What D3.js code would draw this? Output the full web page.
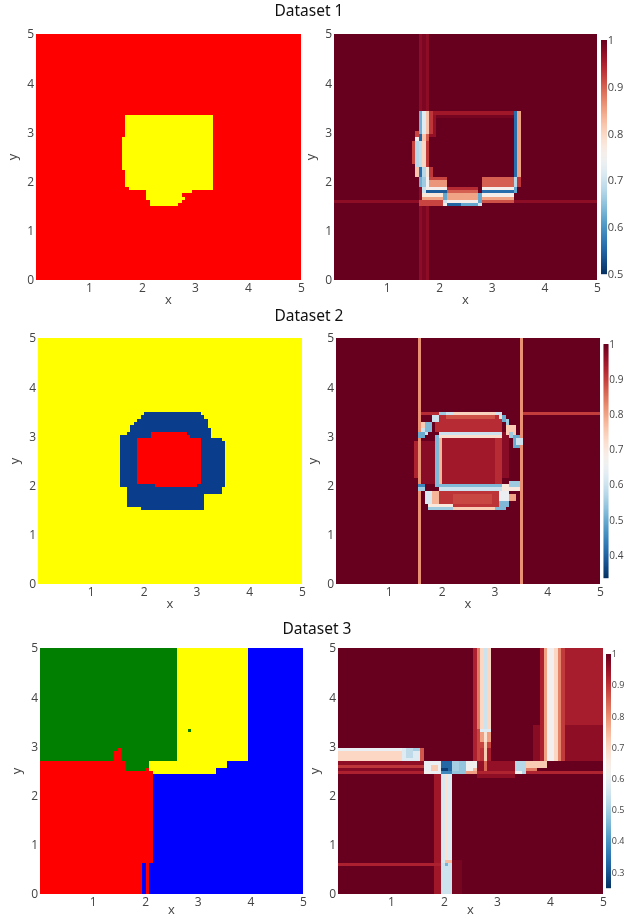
<!DOCTYPE html>
<html>
<head>
<meta charset="utf-8">
<title>Dataset maps</title>
<script src="https://cdn.jsdelivr.net/npm/d3@7"></script>
<style>
html, body { margin: 0; padding: 0; background: #fff; overflow: hidden; }
svg { display: block; filter: blur(0.45px); }
.tick text, .cbar text { font-family: "Open Sans", sans-serif; font-size: 12px; fill: #444; }
.axis-title { font-family: "Open Sans", sans-serif; font-size: 13px; fill: #444; text-anchor: middle; }
.title { font-family: "Noto Sans", sans-serif; font-size: 15.5px; fill: #111; text-anchor: middle; }
</style>
</head>
<body>
<div id="chart"></div>
<script>
var titles = ['Dataset 1', 'Dataset 2', 'Dataset 3'];
var xTicks = [1, 2, 3, 4, 5];
var yTicks = [0, 1, 2, 3, 4, 5];
var classColors = {r: '#ff0000', y: '#ffff00', n: '#0a3d8c', g: '#007f00', b: '#0000ff'};

// grid is 75 cells a side (0.0667 per cell)
// every patch: [col from, col to, row from, row to, value], rows count from the bottom
var class1Base = 'r';
var class1 = [
    [25, 50, 28, 50, 'y'], [24, 25, 33, 43, 'y'], [26, 50, 27, 28, 'y'],
    [31, 44, 26, 27, 'y'], [31, 41, 25, 26, 'y'], [31, 42, 24, 25, 'y'],
    [32, 41, 23, 24, 'y'], [32, 40, 22, 23, 'y']
];

var class2Base = 'y';
var class2 = [
    [30, 46, 51, 52, 'n'], [29, 47, 50, 51, 'n'], [28, 48, 49, 50, 'n'], [27, 48, 48, 49, 'n'],
    [26, 48, 47, 48, 'n'], [26, 49, 46, 47, 'n'], [25, 49, 45, 46, 'n'], [23, 49, 44, 45, 'n'],
    [23, 52, 43, 44, 'n'], [23, 53, 29, 43, 'n'], [25, 52, 27, 29, 'n'], [25, 47, 23, 27, 'n'],
    [29, 47, 22, 23, 'n'],
    [32, 42, 44, 46, 'r'], [42, 43, 44, 45, 'r'], [28, 46, 30, 44, 'r'], [33, 45, 29, 30, 'r']
];

var class3Base = 'b';
var class3 = [
    [0, 39, 40, 76, 'g'], [24, 31, 37, 40, 'g'],
    [21, 22, 40, 43, 'r'], [22, 23, 40, 44, 'r'], [0, 24, 37, 40, 'r'],
    [0, 32, 9, 37, 'r'], [30, 31, 37, 38, 'r'], [0, 29, 0, 9, 'r'], [30, 31, 0, 9, 'r'],
    [39, 59, 40, 76, 'y'], [31, 53, 38, 40, 'y'], [32, 50, 36, 38, 'y'], [31, 32, 37, 38, 'y'],
    [42, 43, 49, 50, 'g']
];

var heat1 = [
    [24, 25, 0, 76, 0.975], [25, 26, 0, 76, 0.985], [26, 27, 0, 76, 0.975], [0, 76, 23, 24, 0.975],
    [27, 51, 50, 51, 0.96], [27, 51, 49, 50, 0.99],
    [27, 29, 43, 50, 0.97], [22, 23, 35, 42, 0.92], [26, 27, 34, 44, 0.93],
    [23, 24, 43, 45, 0.92], [23, 24, 42, 43, 0.76], [24, 25, 44, 51, 0.63], [25, 26, 44, 51, 0.72],
    [26, 27, 44, 51, 0.82], [27, 28, 44, 51, 0.93],
    [24, 25, 42, 44, 0.55], [25, 26, 42, 44, 0.82], [26, 27, 42, 44, 0.9],
    [23, 24, 34, 42, 0.68], [24, 25, 34, 42, 0.69], [25, 26, 34, 42, 0.8],
    [23, 24, 31, 34, 0.82], [24, 25, 31, 34, 0.56], [25, 26, 31, 34, 0.68], [26, 27, 31, 34, 0.78], [27, 28, 31, 34, 0.93],
    [24, 25, 28, 31, 0.63], [25, 26, 28, 31, 0.66], [26, 27, 28, 31, 0.75], [27, 32, 28, 30, 0.86], [27, 32, 30, 31, 0.92],
    [25, 26, 26, 28, 0.7], [26, 32, 27, 28, 0.76], [26, 32, 26, 27, 0.54],
    [25, 32, 25, 26, 0.78], [25, 32, 24, 25, 0.85], [24, 32, 22, 24, 0.92],
    [32, 41, 27, 28, 0.94], [32, 41, 26, 27, 0.9], [32, 41, 24, 26, 0.85], [32, 41, 23, 24, 0.76],
    [32, 36, 22, 23, 0.55], [36, 41, 22, 23, 0.62], [31, 32, 24, 26, 0.62], [31, 32, 23, 24, 0.7], [31, 32, 22, 23, 0.76],
    [41, 42, 23, 26, 0.62], [41, 42, 22, 23, 0.7],
    [42, 51, 28, 31, 0.9], [42, 51, 27, 28, 0.76], [42, 51, 26, 27, 0.56], [42, 51, 25, 26, 0.76],
    [42, 51, 24, 25, 0.85], [42, 51, 23, 24, 0.91],
    [51, 52, 31, 51, 0.56], [51, 52, 28, 31, 0.68], [51, 52, 26, 28, 0.62], [52, 53, 31, 51, 0.85], [52, 53, 28, 31, 0.93]
];

var heat2 = [
    [23, 24, 0, 76, 0.82], [52, 53, 0, 76, 0.82], [53, 76, 51, 52, 0.9], [24, 30, 51, 52, 0.92],
    [22, 23, 32, 43, 0.93], [24, 28, 30, 43, 0.97], [47, 49, 32, 46, 0.97],
    [28, 47, 46, 51, 0.92], [29, 46, 23, 28, 0.91], [33, 44, 24, 27, 0.89],
    [30, 46, 30, 44, 0.945], [29, 30, 30, 44, 0.78], [45, 47, 30, 44, 0.92],
    [31, 45, 51, 52, 0.74], [31, 45, 50, 51, 0.88], [29, 31, 51, 52, 0.55], [31, 33, 51, 52, 0.6], [45, 47, 51, 52, 0.6],
    [47, 48, 49, 51, 0.5], [48, 49, 47, 50, 0.55], [46, 47, 50, 51, 0.72],
    [24, 27, 47, 49, 0.75], [24, 26, 45, 47, 0.6], [23, 25, 44, 46, 0.5], [25, 27, 46, 49, 0.52], [27, 29, 49, 51, 0.6],
    [48, 51, 45, 48, 0.75], [49, 50, 44, 46, 0.55], [50, 52, 41, 45, 0.5], [51, 53, 42, 44, 0.6],
    [29, 47, 45, 46, 0.6], [29, 47, 44, 45, 0.72], [28, 29, 29, 45, 0.52],
    [29, 47, 29, 30, 0.52], [29, 47, 28, 29, 0.6], [23, 25, 29, 30, 0.45], [23, 25, 28, 29, 0.55],
    [25, 27, 24, 28, 0.62], [27, 29, 24, 28, 0.78], [26, 33, 23, 24, 0.7],
    [26, 33, 22, 23, 0.55], [33, 45, 22, 23, 0.75], [45, 48, 22, 23, 0.52],
    [47, 52, 28, 30, 0.7], [49, 52, 29, 31, 0.55], [46, 49, 25, 28, 0.65], [46, 49, 23, 25, 0.52], [49, 51, 25, 27, 0.8]
];

var heat3 = [
    [64, 76, 51, 76, 0.93], [64, 76, 40, 51, 0.96], [55, 58, 40, 51, 0.965],
    [57, 58, 40, 76, 0.925], [58, 59, 40, 76, 0.775], [59, 61, 40, 76, 0.625], [61, 62, 40, 76, 0.7], [62, 63, 40, 76, 0.81], [63, 64, 40, 76, 0.89],
    [38, 39, 40, 76, 0.925], [39, 40, 50, 76, 0.82], [40, 41, 50, 76, 0.7], [41, 42, 50, 76, 0.55], [42, 43, 50, 76, 0.7],
    [40, 43, 49, 50, 0.58], [40, 43, 46, 49, 0.78], [41, 42, 46, 49, 0.68], [39, 40, 40, 50, 0.88],
    [39, 43, 44, 46, 0.88], [40, 41, 40, 44, 0.9], [41, 42, 40, 46, 0.72], [42, 43, 40, 44, 0.93],
    [0, 18, 43, 44, 0.6], [0, 18, 40, 43, 0.7], [18, 23, 40, 44, 0.58], [19, 21, 41, 44, 0.53], [21, 23, 43, 44, 0.5], [23, 24, 40, 44, 0.86],
    [0, 24, 39, 40, 0.96], [0, 24, 38, 39, 0.895], [0, 24, 37, 38, 0.97], [0, 24, 36, 37, 0.925],
    [39, 50, 35, 40, 0.955], [39, 50, 35, 36, 0.96], [41, 42, 36, 40, 0.84],
    [32, 76, 36, 37, 0.92],
    [24, 29, 36, 40, 0.6], [26, 28, 37, 39, 0.72], [24, 26, 36, 37, 0.62],
    [29, 32, 36, 40, 0.33], [29, 31, 37, 38, 0.27], [29, 32, 36, 37, 0.38],
    [32, 36, 36, 40, 0.48], [32, 34, 37, 40, 0.5], [36, 39, 36, 40, 0.62], [36, 39, 36, 37, 0.78], [38, 39, 37, 38, 0.74],
    [50, 53, 36, 40, 0.52], [50, 52, 36, 37, 0.62], [53, 59, 38, 40, 0.72], [53, 56, 37, 38, 0.82],
    [27, 29, 0, 36, 0.94], [29, 30, 9, 36, 0.57], [30, 31, 9, 36, 0.68], [31, 32, 9, 36, 0.58],
    [29, 32, 0, 9, 0.55], [30, 31, 8, 9, 0.45], [30, 32, 9, 10, 0.74], [32, 35, 0, 10, 0.985], [0, 29, 8, 9, 0.925]
];

// plot boxes
var layout = [
    {title: 0, ty: 10, xlab: 24, box: {l: 36, r: 301, t: 34, b: 280}, base: class1Base, patches: class1},
    {xlab: 24, box: {l: 334, r: 597, t: 34, b: 280}, patches: heat1, domain: [0.5, 1], cbar: {l: 601, r: 607, t: 40, b: 274, fs: 11}, ticks: [0.5, 0.6, 0.7, 0.8, 0.9, 1]},
    {title: 1, ty: 315, xlab: 24, box: {l: 38, r: 302, t: 338, b: 584}, base: class2Base, patches: class2},
    {xlab: 24, box: {l: 336, r: 600, t: 338, b: 584}, patches: heat2, domain: [0.335, 1], cbar: {l: 603.5, r: 608.5, t: 344, b: 578, fs: 10}, ticks: [0.4, 0.5, 0.6, 0.7, 0.8, 0.9, 1]},
    {title: 2, ty: 628, xlab: 20, box: {l: 40, r: 303, t: 648, b: 894}, base: class3Base, patches: class3},
    {xlab: 20, box: {l: 338, r: 603, t: 648, b: 894}, patches: heat3, domain: [0.25, 1], cbar: {l: 606, r: 611, t: 654, b: 888, fs: 9}, ticks: [0.3, 0.4, 0.5, 0.6, 0.7, 0.8, 0.9, 1]}
];

var titleX = [309, 309, 317];
var svg = d3.select('#chart').append('svg').attr('width', 624).attr('height', 919);
var defs = svg.append('defs');

layout.forEach(function (p, n) {
    var b = p.box;
    var x = d3.scaleLinear().domain([0, 5]).range([b.l, b.r]);
    var y = d3.scaleLinear().domain([0, 5]).range([b.b, b.t]);
    var isHeat = !!p.domain;
    var color = isHeat ? d3.scaleSequential(d3.interpolateRdBu).domain([p.domain[1], p.domain[0]]) : function (c) { return classColors[c]; };

    // paint patches onto the grid, later ones on top
    var grid = d3.range(76).map(function () {
        return d3.range(76).map(function () { return isHeat ? 1 : p.base; });
    });
    p.patches.forEach(function (q) {
        for (var j = q[2]; j < q[3]; j++) {
            for (var i = q[0]; i < q[1]; i++) grid[j][i] = q[4];
        }
    });

    // merge equal neighbours in a row so seams stay away
    var runs = [];
    grid.forEach(function (row, j) {
        var start = 0;
        for (var i = 1; i <= 76; i++) {
            if (i === 76 || row[i] !== row[start]) {
                runs.push({i0: start, i1: i, j: j, v: row[start]});
                start = i;
            }
        }
    });

    defs.append('clipPath').attr('id', 'clip' + n).append('rect')
        .attr('x', b.l).attr('y', b.t).attr('width', b.r - b.l).attr('height', b.b - b.t);

    var dx = 5 / 75;
    var ox = 0.2, oy = 0.45;  // the cells sit a bit off the axis origin
    var g = svg.append('g').attr('clip-path', 'url(#clip' + n + ')');
    g.append('rect').attr('x', b.l).attr('y', b.t).attr('width', b.r - b.l).attr('height', b.b - b.t)
        .attr('fill', color(isHeat ? 1 : p.base));
    g.selectAll('rect.cell')
        .data(runs)
        .enter()
        .append('rect')
        .attr('class', 'cell')
        .attr('shape-rendering', 'crispEdges')
        .attr('x', function (d) { return x(d.i0 === 0 ? 0 : (d.i0 + ox) * dx); })
        .attr('width', function (d) { return x((d.i1 + ox) * dx) - x(d.i0 === 0 ? 0 : (d.i0 + ox) * dx); })
        .attr('y', function (d) { return y((d.j + 1 + oy) * dx); })
        .attr('height', function (d) { return y(d.j === 0 ? 0 : (d.j + oy) * dx) - y((d.j + 1 + oy) * dx); })
        .attr('fill', function (d) { return color(d.v); });

    // axes
    var ax = svg.append('g').attr('transform', 'translate(0,' + b.b + ')')
        .call(d3.axisBottom(x).tickValues(xTicks).tickSize(0).tickPadding(3).tickFormat(d3.format('d')));
    ax.select('.domain').remove();
    var ay = svg.append('g').attr('transform', 'translate(' + b.l + ',0)')
        .call(d3.axisLeft(y).tickValues(yTicks).tickSize(0).tickPadding(2).tickFormat(d3.format('d')));
    ay.select('.domain').remove();

    svg.append('text').attr('class', 'axis-title')
        .attr('x', (b.l + b.r) / 2).attr('y', b.b + p.xlab).text('x');
    svg.append('text').attr('class', 'axis-title')
        .attr('transform', 'translate(' + (b.l - 19) + ',' + ((b.t + b.b) / 2) + ') rotate(-90)').text('y');

    if (p.title !== undefined) {
        svg.append('text').attr('class', 'title')
            .attr('x', titleX[p.title]).attr('y', p.ty).attr('dy', '0.36em').text(titles[p.title]);
    }

    // colorbar, labels sized so they stay on the page
    if (p.cbar) {
        var c = p.cbar;
        var cy = d3.scaleLinear().domain(p.domain).range([c.b, c.t]);
        var cg = svg.append('g').attr('class', 'cbar');
        var steps = d3.range(c.t, c.b);
        cg.selectAll('rect')
            .data(steps)
            .enter()
            .append('rect')
            .attr('x', c.l)
            .attr('width', c.r - c.l)
            .attr('y', function (d) { return d; })
            .attr('height', 1.2)
            .attr('fill', function (d) { return color(cy.invert(d + 0.5)); });
        cg.selectAll('text')
            .data(p.ticks)
            .enter()
            .append('text')
            .attr('x', c.r + 0.8)
            .attr('y', function (d) { return cy(d); })
            .attr('dy', '0.36em')
            .style('font-size', c.fs + 'px')
            .text(function (d) { return d; });
    }
});
</script>
</body>
</html>
